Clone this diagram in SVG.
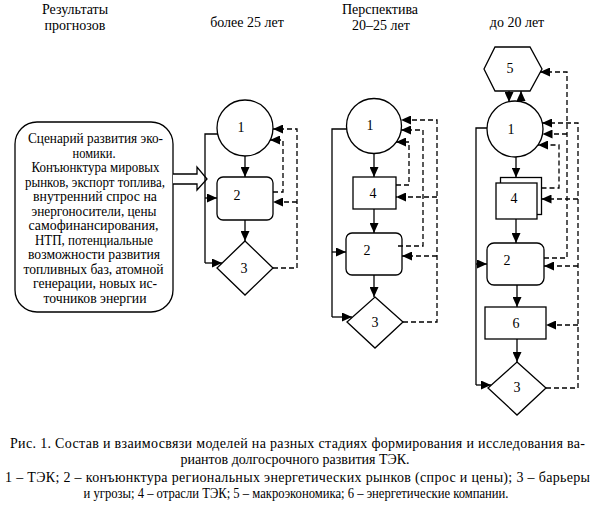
<svg xmlns="http://www.w3.org/2000/svg" width="595" height="509" viewBox="0 0 595 509">
<style>
text{font-family:"Liberation Serif","Times New Roman",serif;fill:#000}
.t{font-size:14px}
.n{font-size:14px;text-anchor:middle}
.c{text-anchor:middle}
.s{fill:#fff;stroke:#000;stroke-width:1.3}
.l{fill:none;stroke:#000;stroke-width:1.3}
.a{fill:none;stroke:#000;stroke-width:1.3;marker-end:url(#ah)}
.da{fill:none;stroke:#000;stroke-width:1.3;stroke-dasharray:5 3;marker-end:url(#ah)}
</style>
<defs>
<marker id="ah" markerUnits="userSpaceOnUse" markerWidth="10" markerHeight="9" refX="10" refY="4.5" orient="auto"><path d="M0,0 L10,4.5 L0,9 z" fill="#000"/></marker>
</defs>
<rect width="595" height="509" fill="#fff"/>
<g id="headers" class="t">
<text class="c" x="75" y="14">Результаты</text>
<text class="c" x="75" y="30">прогнозов</text>
<text class="c" x="247" y="27">более 25 лет</text>
<text class="c" x="380" y="14">Перспектива</text>
<text class="c" x="381" y="30">20–25 лет</text>
<text class="c" x="517" y="27">до 20 лет</text>
</g>
<g id="scenario">
<rect class="s" x="15" y="122" width="158" height="190" rx="22"/>
<g class="t">
<text class="c" x="95.5" y="143" textLength="135" lengthAdjust="spacingAndGlyphs">Сценарий развития эко-</text>
<text class="c" x="94" y="157.5" textLength="43" lengthAdjust="spacingAndGlyphs">номики.</text>
<text class="c" x="95.5" y="172" textLength="128" lengthAdjust="spacingAndGlyphs">Конъюнктура мировых</text>
<text class="c" x="95" y="186.5" textLength="140" lengthAdjust="spacingAndGlyphs">рынков, экспорт топлива,</text>
<text class="c" x="95" y="201" textLength="124" lengthAdjust="spacingAndGlyphs">внутренний спрос на</text>
<text class="c" x="94" y="215.5" textLength="125" lengthAdjust="spacingAndGlyphs">энергоносители, цены</text>
<text class="c" x="93.5" y="230" textLength="130" lengthAdjust="spacingAndGlyphs">самофинансирования,</text>
<text class="c" x="94" y="244.5" textLength="118" lengthAdjust="spacingAndGlyphs">НТП, потенциальные</text>
<text class="c" x="94" y="259" textLength="132" lengthAdjust="spacingAndGlyphs">возможности развития</text>
<text class="c" x="93.5" y="273.5" textLength="140" lengthAdjust="spacingAndGlyphs">топливных баз, атомной</text>
<text class="c" x="95" y="288" textLength="124" lengthAdjust="spacingAndGlyphs">генерации, новых ис-</text>
<text class="c" x="95" y="302.5" textLength="103" lengthAdjust="spacingAndGlyphs">точников энергии</text>
</g>
</g>
<g id="hollow-arrow">
<path class="s" d="M173,174 L197,174 L197,167 L207,179 L197,190 L197,184 L173,184"/>
</g>
<g id="c1-n1"><circle class="s" cx="245" cy="128" r="28"/><text class="n" x="241" y="132">1</text></g>
<g id="c1-n2"><rect class="s" x="217" y="177" width="56" height="43" rx="6"/><text class="n" x="237" y="200">2</text></g>
<g id="c1-n3"><path class="s" d="M245,241 L273,268 L245,295 L217,268 Z"/><text class="n" x="244" y="273">3</text></g>
<g id="c2-n1"><circle class="s" cx="374" cy="126" r="27.5"/><text class="n" x="370" y="130">1</text></g>
<g id="c2-n4"><rect class="s" x="353" y="177" width="43" height="32"/><text class="n" x="373" y="198">4</text></g>
<g id="c2-n2"><rect class="s" x="346" y="233" width="56" height="42" rx="6"/><text class="n" x="367" y="255">2</text></g>
<g id="c2-n3"><path class="s" d="M375,297 L403,322 L375,348 L347,322 Z"/><text class="n" x="375" y="327">3</text></g>
<g id="c3-n5"><path class="s" d="M495,47 L530,47 L542,69 L530,91 L495,91 L484,69 Z"/><text class="n" x="510" y="73">5</text></g>
<g id="c3-n1"><circle class="s" cx="515" cy="129" r="28"/><text class="n" x="511" y="134">1</text></g>
<g id="c3-n4"><rect class="s" x="500.5" y="177.5" width="41" height="37"/><rect class="s" x="496" y="183" width="41" height="36"/><text class="n" x="514" y="203">4</text></g>
<g id="c3-n2"><rect class="s" x="487" y="243" width="57" height="42" rx="7"/><text class="n" x="507" y="265">2</text></g>
<g id="c3-n6"><rect class="s" x="485" y="307" width="61" height="32"/><text class="n" x="516" y="328">6</text></g>
<g id="c3-n3"><path class="s" d="M517,362 L546,388 L517,415 L488,388 Z"/><text class="n" x="517" y="392">3</text></g>
<g id="connectors">
<path class="a" d="M245,156 V177"/>
<path class="a" d="M245,220 V241"/>
<path class="l" d="M218,134 H205 V263"/>
<path class="a" d="M205,198 H217"/>
<path class="a" d="M205,263 H222"/>
<path class="da" d="M273,192 H283 V140 H270"/>
<path class="da" d="M273,268 H297 V129 H273"/>
<path class="da" d="M297,202 H273"/>
<path class="a" d="M374,153.5 V177"/>
<path class="a" d="M374,209 V233"/>
<path class="a" d="M374,275 V297"/>
<path class="l" d="M347,129 H332 V317"/>
<path class="a" d="M332,252 H346"/>
<path class="a" d="M332,317 H352"/>
<path class="da" d="M396,185 H409 V142 H396"/>
<path class="da" d="M398,246 H423 V130 H401"/>
<path class="da" d="M403,322 H437 V120 H401"/>
<path class="da" d="M437,197 H396"/>
<path class="da" d="M437,256 H402"/>
<path class="a" d="M509,91 V102"/>
<path class="a" d="M521,102 V91"/>
<path class="a" d="M516,157 V177.5"/>
<path class="a" d="M516,219 V243"/>
<path class="a" d="M517,285 V307"/>
<path class="a" d="M517,339 V362"/>
<path class="l" d="M487,128 H476 V385"/>
<path class="a" d="M476,264 H487"/>
<path class="a" d="M476,385 H491"/>
<path class="da" d="M541.5,188 H559 V145 H538"/>
<path class="da" d="M544,258 H567 V72 H540"/>
<path class="da" d="M567,134 H542.5"/>
<path class="da" d="M546,388 H578 V123 H542"/>
<path class="da" d="M578,199 H541.5"/>
<path class="da" d="M578,266 H544"/>
<path class="da" d="M578,325 H546"/>
</g>
<g id="caption" class="t">
<text x="10" y="448" textLength="575" lengthAdjust="spacing">Рис. 1. Состав и взаимосвязи моделей на разных стадиях формирования и исследования ва-</text>
<text class="c" x="295" y="464">риантов долгосрочного развития ТЭК.</text>
<text x="5" y="482" textLength="585" lengthAdjust="spacing">1 – ТЭК; 2 – конъюнктура региональных энергетических рынков (спрос и цены); 3 – барьеры</text>
<text class="c" x="296" y="498" textLength="425" lengthAdjust="spacingAndGlyphs">и угрозы; 4 – отрасли ТЭК; 5 – макроэкономика; 6 – энергетические компании.</text>
</g>
</svg>
